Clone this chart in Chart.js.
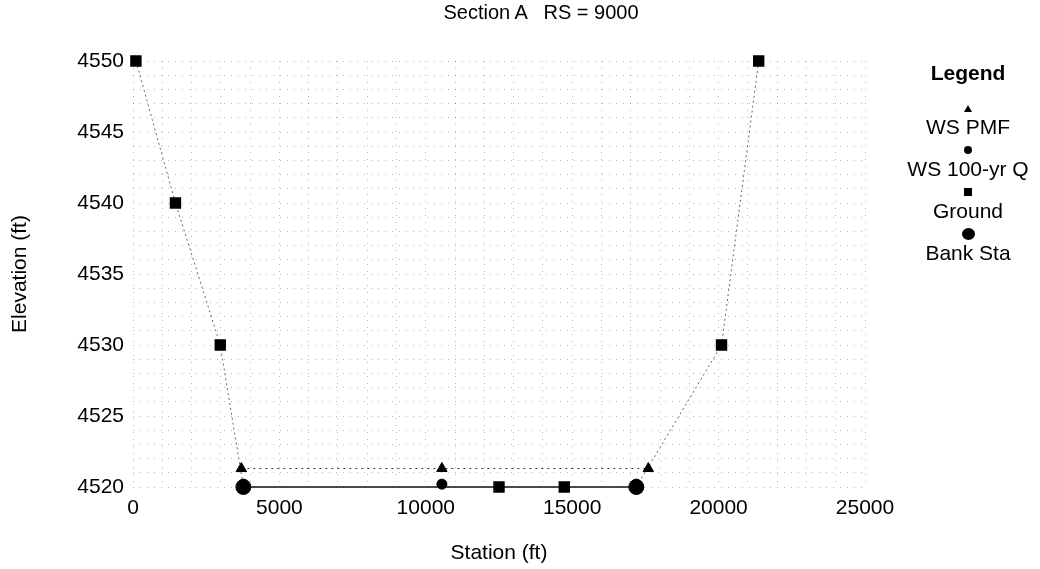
<!DOCTYPE html>
<html>
<head>
<meta charset="utf-8">
<script src="https://cdn.jsdelivr.net/npm/chart.js@4.4.1/dist/chart.umd.min.js"></script>
<style>
    body { margin: 0; background: #fff; }
    #wrap { position: relative; width: 1040px; height: 569px; font-family: "Liberation Sans", Arial, sans-serif; color: #000; }
    #title { position: absolute; left: 341px; width: 400px; top: 0; text-align: center; font-size: 20px; line-height: 24px; white-space: pre; }
    #legend { position: absolute; left: 900px; top: 60px; width: 136px; text-align: center; }
    #legend .head { font-weight: bold; font-size: 21px; line-height: 26px; height: 41px; }
    #legend .item { height: 42px; }
    #legend .mark { height: 14px; display: flex; align-items: center; justify-content: center; }
    #legend .label { font-size: 21px; line-height: 24px; white-space: nowrap; }
    .tri { width: 0; height: 0; border-left: 4px solid transparent; border-right: 4px solid transparent; border-bottom: 7px solid #000; }
    .dot { width: 8px; height: 8px; border-radius: 50%; background: #000; }
    .sq { width: 8px; height: 8px; background: #000; }
    .big { width: 13px; height: 12px; border-radius: 50%; background: #000; }
</style>
</head>
<body>
<div id="wrap">
    <canvas id="chart"></canvas>
    <div id="title">Section A   RS = 9000</div>
    <div id="legend"></div>
</div>
<script>
// values
const xTicks = [0, 5000, 10000, 15000, 20000, 25000];
const yTicks = [4520, 4525, 4530, 4535, 4540, 4545, 4550];

const pmfStation = [3700, 10550, 17600];
const pmfElev = [4521.3, 4521.3, 4521.3];

const q100Station = [3770, 10550, 17190];
const q100Elev = [4520.2, 4520.2, 4520.2];

const groundStation = [100, 1450, 2980, 3770, 12500, 14730, 17190, 20100, 21370];
const groundElev = [4550, 4540, 4530, 4520, 4520, 4520, 4520, 4530, 4550];

const bankStation = [3770, 17190];
const bankElev = [4520, 4520];

const seriesNames = ["WS PMF", "WS 100-yr Q", "Ground", "Bank Sta"];

function pts(xs, ys) {
    return xs.map((x, i) => ({ x: x, y: ys[i] }));
}

Chart.defaults.font.family = '"Liberation Sans", Arial, sans-serif';
Chart.defaults.color = "#000";

// legend on the right, marker above label
const legendEl = document.getElementById("legend");
const markClass = ["tri", "dot", "sq", "big"];
let html = '<div class="head">Legend</div>';
seriesNames.forEach((name, i) => {
    html += '<div class="item"><div class="mark"><div class="' + markClass[i] + '"></div></div>' +
        '<div class="label">' + name + '</div></div>';
});
legendEl.innerHTML = html;

const gridStyle = { color: "rgba(0,0,0,0.28)", drawTicks: false, lineWidth: 1 };

new Chart(document.getElementById("chart"), {
    type: "scatter",
    data: {
        datasets: [
            {
                label: seriesNames[0],
                data: pts(pmfStation, pmfElev),
                showLine: true,
                borderColor: "#333",
                borderWidth: 1,
                borderDash: [2, 4],
                pointStyle: "triangle",
                pointRadius: 6,
                backgroundColor: "#000",
                pointBorderColor: "#000",
                clip: false
            },
            {
                label: seriesNames[1],
                data: pts(q100Station, q100Elev),
                showLine: false,
                pointStyle: "circle",
                pointRadius: 5,
                backgroundColor: "#000",
                pointBorderColor: "#000",
                clip: false
            },
            {
                label: seriesNames[2],
                data: pts(groundStation, groundElev),
                showLine: true,
                borderColor: "#222",
                borderWidth: 1.5,
                segment: {
                    borderDash: ctx => ctx.p0.parsed.y === ctx.p1.parsed.y ? [] : [2, 3],
                    borderColor: ctx => ctx.p0.parsed.y === ctx.p1.parsed.y ? "#111" : "#666",
                    borderWidth: ctx => ctx.p0.parsed.y === ctx.p1.parsed.y ? 1.5 : 1
                },
                pointStyle: "rect",
                pointRadius: 7,
                backgroundColor: "#000",
                pointBorderColor: "#000",
                clip: false
            },
            {
                label: seriesNames[3],
                data: pts(bankStation, bankElev),
                showLine: false,
                pointStyle: "circle",
                pointRadius: 7.5,
                backgroundColor: "#000",
                pointBorderColor: "#000",
                clip: false
            }
        ]
    },
    options: {
        responsive: true,
        maintainAspectRatio: false,
        animation: false,
        layout: { padding: { left: 0, right: 175, top: 61, bottom: 0 } },
        plugins: {
            legend: { display: false },
            tooltip: { enabled: false }
        },
        scales: {
            x: {
                type: "linear",
                min: 0,
                max: 25000,
                afterFit: s => { s.height = 82; },
                border: { display: false, dash: [1, 6] },
                grid: gridStyle,
                ticks: {
                    stepSize: 1000,
                    autoSkip: false,
                    maxRotation: 0,
                    padding: 9,
                    font: { size: 21 },
                    callback: v => xTicks.includes(v) ? String(v) : ""
                },
                title: {
                    display: true,
                    text: "Station (ft)",
                    font: { size: 21 },
                    padding: { top: 4, bottom: 3 }
                }
            },
            y: {
                type: "linear",
                min: 4520,
                max: 4550,
                afterFit: s => { s.width = 133; },
                border: { display: false, dash: [1, 6] },
                grid: gridStyle,
                ticks: {
                    stepSize: 1,
                    autoSkip: false,
                    padding: 9,
                    font: { size: 21 },
                    callback: v => yTicks.includes(v) ? String(v) : ""
                },
                title: {
                    display: true,
                    text: "Elevation (ft)",
                    font: { size: 21 },
                    padding: { top: 8, bottom: 0 }
                }
            }
        }
    }
});
</script>
</body>
</html>
